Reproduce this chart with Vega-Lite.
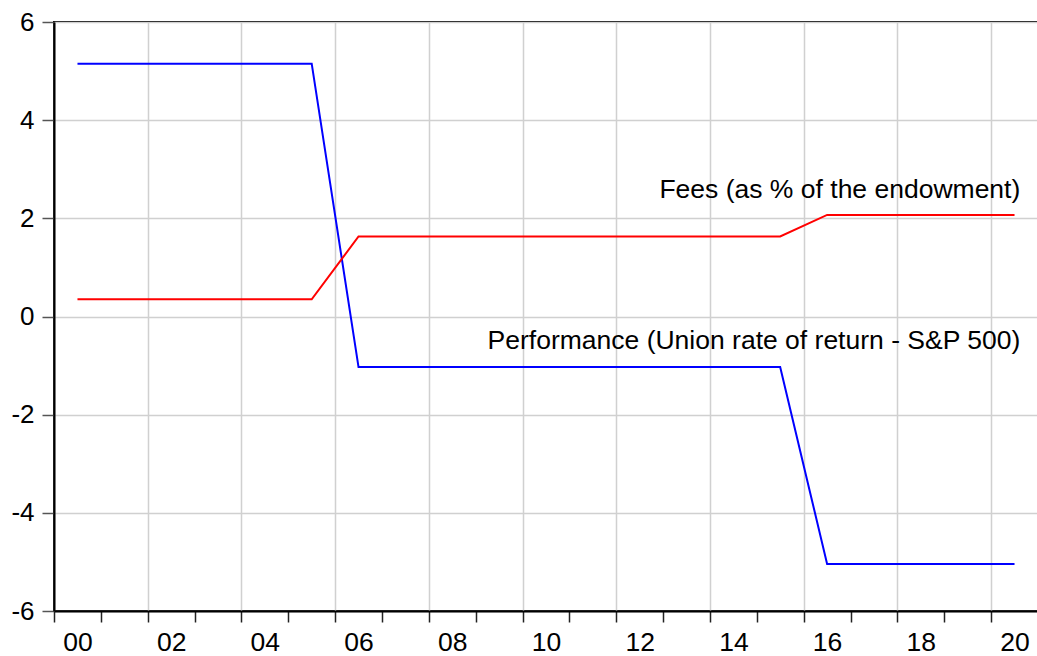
{
  "$schema": "https://vega.github.io/schema/vega-lite/v6.json",
  "width": 984,
  "height": 589,
  "autosize": "none",
  "padding": {"left": 54, "top": 22, "right": 0, "bottom": 45},
  "background": "white",
  "config": {
    "view": {"stroke": "black", "strokeWidth": 2},
    "font": "Liberation Sans"
  },
  "layer": [
    {
      "data": {
        "values": [
          {"date": "2000-07-02", "series": "Performance", "value": 5.15},
          {"date": "2001-07-02", "series": "Performance", "value": 5.15},
          {"date": "2002-07-02", "series": "Performance", "value": 5.15},
          {"date": "2003-07-02", "series": "Performance", "value": 5.15},
          {"date": "2004-07-02", "series": "Performance", "value": 5.15},
          {"date": "2005-07-02", "series": "Performance", "value": 5.15},
          {"date": "2006-07-02", "series": "Performance", "value": -1.03},
          {"date": "2007-07-02", "series": "Performance", "value": -1.03},
          {"date": "2008-07-02", "series": "Performance", "value": -1.03},
          {"date": "2009-07-02", "series": "Performance", "value": -1.03},
          {"date": "2010-07-02", "series": "Performance", "value": -1.03},
          {"date": "2011-07-02", "series": "Performance", "value": -1.03},
          {"date": "2012-07-02", "series": "Performance", "value": -1.03},
          {"date": "2013-07-02", "series": "Performance", "value": -1.03},
          {"date": "2014-07-02", "series": "Performance", "value": -1.03},
          {"date": "2015-07-02", "series": "Performance", "value": -1.03},
          {"date": "2016-07-02", "series": "Performance", "value": -5.04},
          {"date": "2017-07-02", "series": "Performance", "value": -5.04},
          {"date": "2018-07-02", "series": "Performance", "value": -5.04},
          {"date": "2019-07-02", "series": "Performance", "value": -5.04},
          {"date": "2020-07-02", "series": "Performance", "value": -5.04},
          {"date": "2000-07-02", "series": "Fees", "value": 0.35},
          {"date": "2001-07-02", "series": "Fees", "value": 0.35},
          {"date": "2002-07-02", "series": "Fees", "value": 0.35},
          {"date": "2003-07-02", "series": "Fees", "value": 0.35},
          {"date": "2004-07-02", "series": "Fees", "value": 0.35},
          {"date": "2005-07-02", "series": "Fees", "value": 0.35},
          {"date": "2006-07-02", "series": "Fees", "value": 1.63},
          {"date": "2007-07-02", "series": "Fees", "value": 1.63},
          {"date": "2008-07-02", "series": "Fees", "value": 1.63},
          {"date": "2009-07-02", "series": "Fees", "value": 1.63},
          {"date": "2010-07-02", "series": "Fees", "value": 1.63},
          {"date": "2011-07-02", "series": "Fees", "value": 1.63},
          {"date": "2012-07-02", "series": "Fees", "value": 1.63},
          {"date": "2013-07-02", "series": "Fees", "value": 1.63},
          {"date": "2014-07-02", "series": "Fees", "value": 1.63},
          {"date": "2015-07-02", "series": "Fees", "value": 1.63},
          {"date": "2016-07-02", "series": "Fees", "value": 2.07},
          {"date": "2017-07-02", "series": "Fees", "value": 2.07},
          {"date": "2018-07-02", "series": "Fees", "value": 2.07},
          {"date": "2019-07-02", "series": "Fees", "value": 2.07},
          {"date": "2020-07-02", "series": "Fees", "value": 2.07}
        ]
      },
      "mark": {"type": "line", "strokeWidth": 2, "interpolate": "linear"},
      "encoding": {
        "x": {
          "field": "date",
          "type": "temporal",
          "scale": {"type": "utc", "domain": ["2000-01-01", "2021-01-01"], "nice": false},
          "axis": {
            "title": null,
            "tickCount": {"interval": "year", "step": 1},
            "labelExpr": "utcyear(datum.value) % 2 == 0 && utcyear(datum.value) < 2021 ? utcFormat(datum.value, '%y') : ''",
            "labelOffset": 23.4,
            "labelAlign": "center",
            "labelFontSize": 26.5,
            "labelColor": "black",
            "labelPadding": 7,
            "labelOverlap": false,
            "labelBound": false,
            "labelFlush": false,
            "tickSize": 11,
            "tickColor": "#222",
            "tickWidth": 1.5,
            "domainColor": "black",
            "domainWidth": 2,
            "gridColor": "#d0d0d0",
            "gridWidth": 1.5,
            "gridOpacity": {"condition": {"test": "utcyear(datum.value) % 2 == 0", "value": 1}, "value": 0}
          }
        },
        "y": {
          "field": "value",
          "type": "quantitative",
          "scale": {"domain": [-6, 6], "nice": false, "zero": false},
          "axis": {
            "title": null,
            "values": [-6, -4, -2, 0, 2, 4, 6],
            "labelExpr": "'' + datum.value",
            "labelFontSize": 26,
            "labelColor": "black",
            "labelPadding": 8,
            "tickSize": 12,
            "tickColor": "#555",
            "tickWidth": 1.5,
            "domainColor": "black",
            "domainWidth": 2,
            "gridColor": "#d0d0d0",
            "gridWidth": 1.5
          }
        },
        "color": {
          "field": "series",
          "type": "nominal",
          "scale": {"domain": ["Performance", "Fees"], "range": ["#0000ff", "#ff0000"]},
          "legend": null
        },
        "detail": {"field": "series"}
      }
    },
    {
      "data": {
        "values": [
          {"date": "2020-08-16", "value": 2.42, "label": "Fees (as % of the endowment)"},
          {"date": "2020-08-16", "value": -0.66, "label": "Performance (Union rate of return - S&P 500)"}
        ]
      },
      "mark": {"type": "text", "align": "right", "baseline": "alphabetic", "fontSize": 26.5, "font": "Liberation Sans", "color": "black"},
      "encoding": {
        "x": {"field": "date", "type": "temporal"},
        "y": {"field": "value", "type": "quantitative"},
        "text": {"field": "label"}
      }
    }
  ]
}
